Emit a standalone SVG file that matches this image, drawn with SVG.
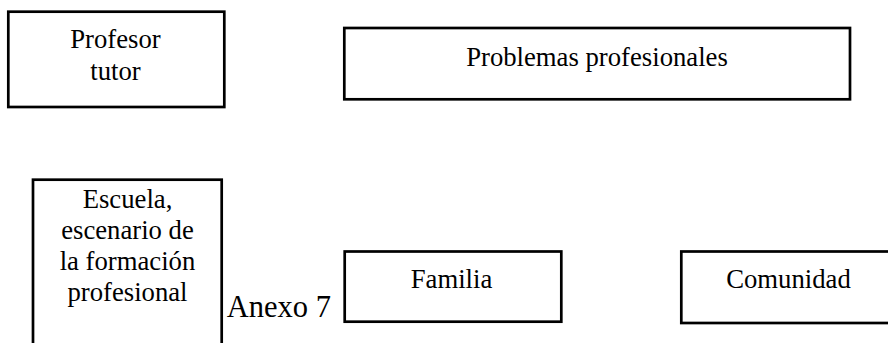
<svg xmlns="http://www.w3.org/2000/svg" width="888" height="343" viewBox="0 0 888 343">
<style>
.box{fill:#fff;stroke:#000;stroke-width:2.7}
.t{font-family:"Liberation Serif","Times New Roman",serif;font-size:26.7px;fill:#000;text-anchor:middle}
.a{font-family:"Liberation Serif","Times New Roman",serif;font-size:30.5px;fill:#000}
</style>
<rect width="888" height="343" fill="#fff"/>
<g id="profesor-tutor">
<rect class="box" x="8.3" y="11.7" width="216" height="95.3"/>
<text class="t" x="115.5" y="48.3">Profesor</text>
<text class="t" x="115.5" y="80">tutor</text>
</g>
<g id="problemas-profesionales">
<rect class="box" x="344.3" y="28" width="505.7" height="71.3"/>
<text class="t" x="597" y="66.4">Problemas profesionales</text>
</g>
<g id="escuela">
<rect class="box" x="33" y="179.7" width="188.7" height="200"/>
<text class="t" x="127.5" y="207.7">Escuela,</text>
<text class="t" x="127.5" y="238.7">escenario de</text>
<text class="t" x="127.5" y="269.7">la formación</text>
<text class="t" x="127.5" y="300.7">profesional</text>
</g>
<g id="familia">
<rect class="box" x="344.7" y="251.5" width="216.6" height="70.2"/>
<text class="t" x="451.5" y="288.3">Familia</text>
</g>
<g id="comunidad">
<rect class="box" x="681.3" y="251.5" width="220" height="71.5"/>
<text class="t" x="788.5" y="288.3">Comunidad</text>
</g>
<g id="connectors"></g>
<text class="a" x="226.7" y="316.7">Anexo 7</text>
</svg>
